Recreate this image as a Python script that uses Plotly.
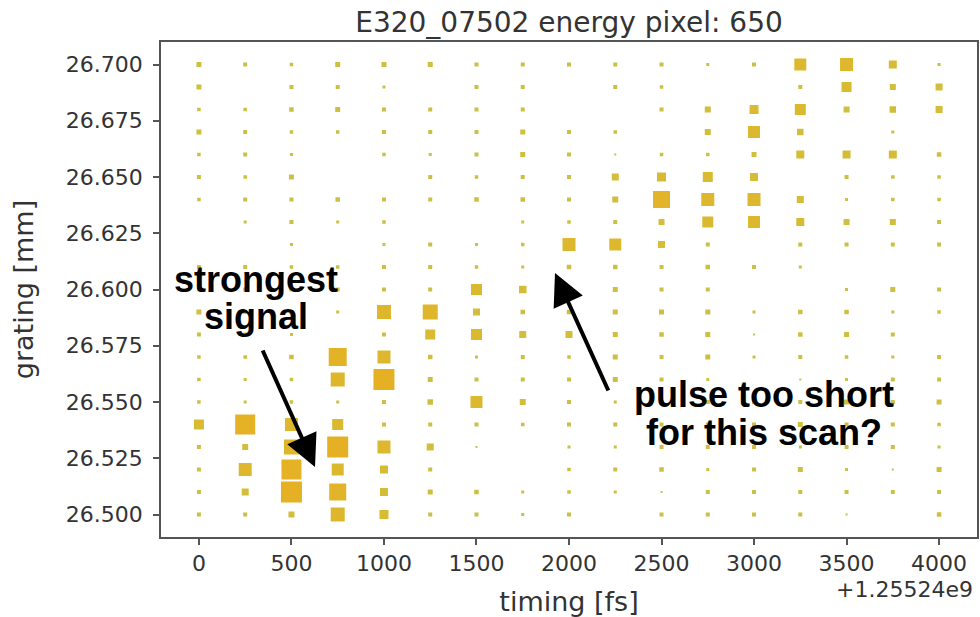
import plotly.graph_objects as go

# --- data -------------------------------------------------------------------
TIME_OFFSET = 1.25524e9  # fs, common offset of the timing axis

timing_fs = [0, 250, 500, 750, 1000, 1250, 1500, 1750, 2000,
             2250, 2500, 2750, 3000, 3250, 3500, 3750, 4000]

grating_mm = [26.700, 26.690, 26.680, 26.670, 26.660, 26.650, 26.640,
              26.630, 26.620, 26.610, 26.600, 26.590, 26.580, 26.570,
              26.560, 26.550, 26.540, 26.530, 26.520, 26.510, 26.500]

# integrated signal (a.u.), one row per grating setting, one column per timing
signal = [
    [5, 4, 3.5, 5, 5, 5, 4, 4, 4, 4, 4, 3, 4, 12, 13, 8, 3],
    [5, 0, 4, 4, 3, 0, 4, 4, 0, 4, 3.5, 0, 0, 4, 10, 6, 7],
    [3.5, 3.5, 4.5, 5, 4, 4, 4, 4, 0, 0, 4, 6, 9, 11, 6, 6.5, 7],
    [5, 4, 3.5, 3.5, 4, 4, 4, 5, 4, 3.5, 0, 6, 12, 6.5, 0, 3, 0],
    [3.5, 4, 3, 0, 3.5, 3, 4, 5, 4, 2, 3.5, 3.5, 5, 8, 8, 8, 4.5],
    [4, 3.5, 5, 0, 0, 4, 3.5, 4, 4, 7, 9, 10, 8, 0, 4, 3.5, 3.5],
    [3.5, 4, 4, 4.5, 4, 4, 4.5, 4.5, 4, 6, 17, 13, 13, 7, 3, 3.5, 3.5],
    [0, 3, 4, 3, 3.5, 0, 0, 3, 3.5, 4, 6, 11, 12, 8, 6, 6, 4],
    [0, 0, 3, 0, 3, 4, 3, 3.5, 13, 12, 7, 4, 0, 4, 4, 4, 4],
    [4, 4, 3.5, 3.5, 4, 4, 3.5, 3, 4.5, 4.5, 4, 4.5, 4, 3, 0, 0, 0],
    [4, 4, 4, 4, 4, 4, 11, 7.5, 5, 5, 4, 4, 0, 0, 3, 5, 4],
    [5, 4, 4, 3, 14, 15, 7, 4.5, 4.5, 5, 5, 5, 3, 4.5, 4.5, 3, 3.5],
    [4, 4, 3, 0, 4, 10, 11, 7, 7, 5, 4.5, 5, 2, 4.5, 5, 4, 0],
    [3.5, 3.5, 4.5, 18, 13, 4.5, 3, 4, 3.5, 5, 4, 5, 3, 4, 3.5, 3, 4],
    [3.5, 3, 3.5, 14, 21, 5, 4, 4, 4, 5, 4, 3, 0, 2, 3, 4, 4],
    [3.5, 3, 3.5, 3, 4, 5.5, 12, 6, 4, 3, 4, 4, 4, 4, 5, 4, 5],
    [10, 20, 13, 11, 4, 4, 4, 3.5, 4, 4, 4, 4, 4, 5, 4, 4, 3.5],
    [4, 6, 15, 21, 13, 7, 2, 0, 3, 3, 4, 4, 4, 3, 4, 4, 3],
    [4, 13, 20, 12, 8, 4, 0, 0, 3.5, 4, 4.5, 3, 4, 5, 3, 2, 5],
    [4, 7, 21, 17, 8, 5, 4.5, 3, 3.5, 3, 2, 4, 4, 4, 4, 4, 4],
    [4, 4, 6, 14, 9, 4, 4, 3, 4, 0, 4, 4, 4, 4, 2, 0, 4.5],
]

x_ticks = [0, 500, 1000, 1500, 2000, 2500, 3000, 3500, 4000]
y_ticks = [26.500, 26.525, 26.550, 26.575, 26.600, 26.625, 26.650, 26.675, 26.700]

# --- figure geometry ---------------------------------------------------------
W, H = 980, 617
PLOT_L, PLOT_R, PLOT_T, PLOT_B = 161, 977, 42, 537
PX_PER_UNIT = 1.0  # marker edge length per unit of signal

def px_to_paper(px, py):
    return ((px - PLOT_L) / (PLOT_R - PLOT_L), (PLOT_B - py) / (PLOT_B - PLOT_T))

# flatten the grid, skipping empty cells
xs, ys, vals = [], [], []
for g, row in zip(grating_mm, signal):
    for t, v in zip(timing_fs, row):
        if v > 0:
            xs.append(t)
            ys.append(g)
            vals.append(v)

fig = go.Figure(go.Scatter(
    x=xs, y=ys, mode="markers",
    marker=dict(
        symbol="square",
        size=[v * PX_PER_UNIT for v in vals],
        color=vals,
        colorscale=[[0, "#c6c24a"], [0.35, "#d8bb32"], [1, "#e6b024"]],
        cmin=2, cmax=21,
        showscale=False,
        opacity=1,
        line=dict(width=0),
    ),
    hoverinfo="x+y",
))

axis_font = dict(family="DejaVu Sans", size=22, color="#333333")
title_font = dict(family="DejaVu Sans", size=27, color="#333333")
frame = dict(showline=True, linecolor="#555555", linewidth=1.5, mirror=True,
             ticks="outside", ticklen=6, tickwidth=1.5, tickcolor="#555555",
             showgrid=False, zeroline=False, tickfont=axis_font)

fig.update_xaxes(range=[-205, 4205], tickvals=x_ticks, ticklabelstandoff=0,
                 title=dict(text="timing [fs]", font=title_font, standoff=18),
                 **frame)
fig.update_yaxes(range=[26.490, 26.710], tickvals=y_ticks, tickformat=".3f",
                 ticklabelstandoff=6,
                 title=dict(text="grating [mm]", font=title_font, standoff=24),
                 **frame)

annotations = []

# offset of the timing axis
ox, oy = px_to_paper(975, 589)
annotations.append(dict(xref="paper", yref="paper", x=ox, y=oy, xanchor="right", yanchor="middle",
                        text="+%.5fe9" % (TIME_OFFSET / 1e9), showarrow=False,
                        font=dict(family="DejaVu Sans", size=22, color="#333333")))

# bold callouts
label_font = dict(family="Liberation Sans, Arial, sans-serif", size=36, color="black")
for text, (px, py) in [("strongest", (256, 279)), ("signal", (256, 316)),
                       ("pulse too short", (764, 394)), ("for this scan?", (764, 432))]:
    lx, ly = px_to_paper(px, py)
    annotations.append(dict(xref="paper", yref="paper", x=lx, y=ly, xanchor="center", yanchor="middle",
                            text="<b>%s</b>" % text, showarrow=False, font=label_font))

# arrows: (tail, head)
for (tx, ty), (hx, hy) in [((262, 349), (315, 467)), ((609, 392), (555, 273))]:
    ax_, ay_ = px_to_paper(hx, hy)
    annotations.append(dict(xref="paper", yref="paper", x=ax_, y=ay_, text="",
                            showarrow=True, arrowhead=2, arrowsize=1.6, arrowwidth=4,
                            arrowcolor="black", ax=tx - hx, ay=ty - hy, standoff=0, startstandoff=0))

fig.update_layout(
    width=W, height=H,
    margin=dict(l=PLOT_L, r=W - PLOT_R, t=PLOT_T, b=H - PLOT_B, autoexpand=False),
    paper_bgcolor="white", plot_bgcolor="white",
    title=dict(text="E320_07502 energy pixel: 650", x=0.5, xref="paper",
               y=1 - 22 / H, yref="container", yanchor="middle", xanchor="center",
               font=dict(family="DejaVu Sans", size=28, color="#333333")),
    annotations=annotations,
    showlegend=False,
)

fig.write_html("out.html")
